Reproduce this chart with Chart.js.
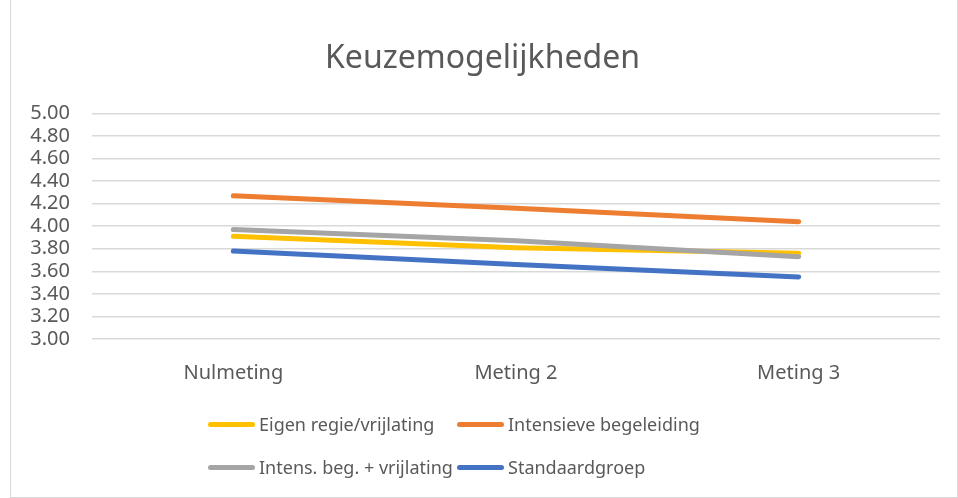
<!DOCTYPE html>
<html>
<head>
<meta charset="utf-8">
<script src="https://cdn.jsdelivr.net/npm/chart.js@4"></script>
<style>
  html, body { margin: 0; padding: 0; background: #fff; }
  body { width: 958px; height: 498px; position: relative; overflow: hidden; font-family: "Noto Sans", sans-serif; }
  #frame { position: absolute; left: 10px; top: -1px; width: 946px; height: 497px; border: 1px solid #d9d9d9; }
  #wrap { position: absolute; left: 0; top: 0; width: 958px; height: 413px; }
  #legend { position: absolute; left: 208px; top: 412px; display: grid; grid-template-columns: 249px 260px; row-gap: 19px; }
  .item { display: flex; align-items: center; font-size: 18px; color: #595959; height: 24px; white-space: nowrap; }
  .swatch { width: 47px; height: 5px; border-radius: 3px; margin-right: 4px; }
</style>
</head>
<body>
<div id="frame"></div>
<div id="wrap"><canvas id="chart"></canvas></div>
<div id="legend"></div>
<script>
const categories = ['Nulmeting', 'Meting 2', 'Meting 3'];
const seriesNames = ['Eigen regie/vrijlating', 'Intensieve begeleiding', 'Intens. beg. + vrijlating', 'Standaardgroep'];
const eigenRegie = [3.91, 3.81, 3.76];
const intensieve = [4.27, 4.16, 4.04];
const intensVrij = [3.97, 3.87, 3.73];
const standaard = [3.78, 3.66, 3.55];
const colors = ['#FFC000', '#ED7D31', '#A5A5A5', '#4472C4'];

const values = [eigenRegie, intensieve, intensVrij, standaard];
// grey drawn above yellow, as in the picture
const drawOrder = [3, 1, 0, 2];

const datasets = values.map(function (v, i) {
    return {
        label: seriesNames[i],
        data: v,
        borderColor: colors[i],
        backgroundColor: colors[i],
        borderWidth: 5,
        borderCapStyle: 'round',
        pointRadius: 0,
        tension: 0,
        order: drawOrder[i]
    };
});

const chart = new Chart(document.getElementById('chart'), {
    type: 'line',
    data: { labels: categories, datasets: datasets },
    options: {
        responsive: true,
        maintainAspectRatio: false,
        animation: false,
        layout: { padding: { left: 25, right: 18, top: 40, bottom: 6 } },
        plugins: {
            legend: { display: false },
            tooltip: { enabled: false },
            title: {
                display: true,
                text: 'Keuzemogelijkheden',
                color: '#595959',
                font: { family: 'Noto Sans', size: 32, weight: 'normal' },
                padding: { top: 0, bottom: 35 }
            }
        },
        scales: {
            x: {
                offset: true,
                grid: { display: false, drawTicks: false },
                border: { display: false },
                ticks: {
                    color: '#595959',
                    font: { family: 'Noto Sans', size: 20 },
                    padding: 22
                }
            },
            y: {
                min: 3,
                max: 5,
                grid: { color: '#d9d9d9', lineWidth: 1.5, drawTicks: false },
                border: { display: false },
                afterFit: function (axis) { axis.width = 67; },
                ticks: {
                    stepSize: 0.2,
                    autoSkip: false,
                    color: '#595959',
                    font: { family: 'Noto Sans', size: 20, lineHeight: 1 },
                    padding: 22,
                    callback: function (v) { return v.toFixed(2); }
                }
            }
        }
    }
});

const legendEl = document.getElementById('legend');
chart.data.datasets.forEach(function (ds) {
    const item = document.createElement('div');
    item.className = 'item';
    const sw = document.createElement('span');
    sw.className = 'swatch';
    sw.style.background = ds.borderColor;
    const txt = document.createElement('span');
    txt.textContent = ds.label;
    item.appendChild(sw);
    item.appendChild(txt);
    legendEl.appendChild(item);
});
</script>
</body>
</html>
